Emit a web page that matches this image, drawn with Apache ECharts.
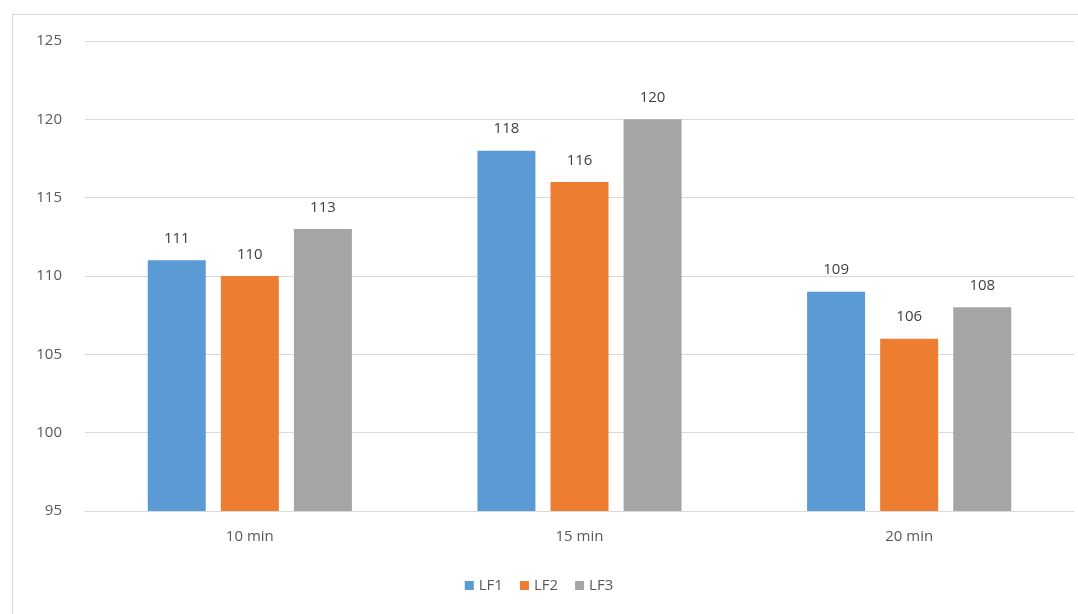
<!DOCTYPE html>
<html><head><meta charset="utf-8">
<script src="https://cdn.jsdelivr.net/npm/echarts@6/dist/echarts.min.js"></script>
<style>
html,body{margin:0;padding:0;background:#fff;}
#frame{position:absolute;left:12px;top:14px;width:1080px;height:620px;border-top:1px solid #d9d9d9;border-left:1px solid #d9d9d9;}
#chart{position:absolute;left:0;top:0;width:1078px;height:614px;}
</style></head>
<body>
<div id="frame"></div>
<div id="chart"></div>
<script>
const categories = ['10 min', '15 min', '20 min'];
const seriesNames = ['LF1', 'LF2', 'LF3'];
const lf1 = [111, 118, 109];
const lf2 = [110, 116, 106];
const lf3 = [113, 120, 108];
const colors = ['#5B9BD5', '#ED7D31', '#A5A5A5'];
const values = [lf1, lf2, lf3];
const font = 'Open Sans, Noto Sans, sans-serif';

const chart = echarts.init(document.getElementById('chart'));
chart.setOption({
  animation: false,
  grid: {left: 85, right: 4, top: 41, bottom: 103},
  legend: {
    data: seriesNames, bottom: 16, left: 'center',
    itemWidth: 9, itemHeight: 9, itemGap: 17, icon: 'rect',
    textStyle: {color: '#595959', fontSize: 15, fontFamily: font}
  },
  xAxis: {
    type: 'category', data: categories,
    axisLine: {lineStyle: {color: '#d9d9d9'}},
    axisTick: {show: false},
    axisLabel: {color: '#595959', fontSize: 15, fontFamily: font, margin: 18}
  },
  yAxis: {
    type: 'value', min: 95, max: 125, interval: 5,
    axisLine: {show: false}, axisTick: {show: false},
    splitLine: {lineStyle: {color: '#d9d9d9'}},
    axisLabel: {color: '#595959', fontSize: 15, fontFamily: font, margin: 23}
  },
  series: values.map((v, i) => ({
    name: seriesNames[i], type: 'bar', data: v,
    barWidth: 58, barGap: '26%',
    itemStyle: {color: colors[i]},
    label: {show: true, position: 'top', distance: 14, color: '#404040', fontSize: 15, fontFamily: font}
  }))
});
</script>
</body></html>
